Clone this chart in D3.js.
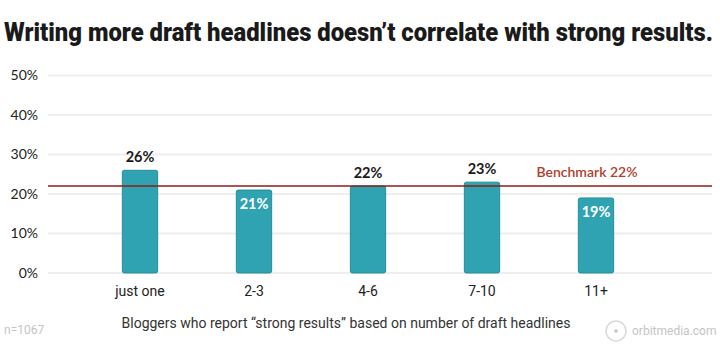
<!DOCTYPE html>
<html><head><meta charset="utf-8">
<script src="https://cdn.jsdelivr.net/npm/d3@7"></script>
<style>body{margin:0;background:#fff;}svg{display:block;}</style>
</head><body>
<svg id="chart" width="720" height="360"></svg>
<script>
const categories = ["just one", "2-3", "4-6", "7-10", "11+"];
const values = [26, 21, 22, 23, 19];
const labelInside = [false, true, false, false, true];
const yTicks = [0, 10, 20, 30, 40, 50];
const benchmark = 22;
const title = "Writing more draft headlines doesn\u2019t correlate with strong results.";
const subtitle = "Bloggers who report \u201cstrong results\u201d based on number of draft headlines";
const note = "n=1067";
const brand = "orbitmedia.com";

(function () {
const svg = d3.select("#chart");
const mLeft = 48, mRight = 712, mTop = 75.5, mBottom = 273;

const x = d3.scaleBand().domain(categories).range([83, 653]).paddingInner(0.69).paddingOuter(0.345);
const y = d3.scaleLinear().domain([0, 50]).range([mBottom, mTop]);

const tg = svg.append("g");
const tt = tg.append("text").attr("x", 0).attr("y", 0)
  .attr("font-family", "Roboto").attr("font-weight", 900).attr("font-size", 26).attr("fill", "#1a1a1a").text(title);
const natural = tt.node().getComputedTextLength();
tg.attr("transform", `translate(4,41) scale(${709 / natural},1)`);

svg.append("g").selectAll("line").data(yTicks).join("line")
  .attr("x1", mLeft).attr("x2", mRight).attr("y1", d => y(d)).attr("y2", d => y(d))
  .attr("stroke", "#eeeeee").attr("stroke-width", 2);

const yAxis = d3.axisLeft(y).tickValues(yTicks).tickFormat(d => d + "%").tickSize(0).tickPadding(0);
const ga = svg.append("g").attr("transform", "translate(38,0)").call(yAxis);
ga.select(".domain").remove();
ga.selectAll("text").attr("font-family", "Lato").attr("font-size", 14).attr("fill", "#222");

svg.append("g").selectAll("rect").data(values).join("rect")
  .attr("x", (d, i) => x(categories[i])).attr("width", x.bandwidth())
  .attr("y", d => y(d)).attr("height", d => y(0) - y(d))
  .attr("rx", 2).attr("fill", "#2fa3b1").attr("stroke", "#238f9b").attr("stroke-width", 1);

svg.append("line").attr("x1", mLeft).attr("x2", mRight).attr("y1", y(benchmark)).attr("y2", y(benchmark))
  .attr("stroke", "#8e1c14").attr("stroke-width", 1.5);
svg.append("text").attr("x", 587).attr("y", y(benchmark) - 9).attr("text-anchor", "middle")
  .attr("font-family", "Lato").attr("font-weight", 600).attr("font-size", 14).attr("fill", "#b0402c").text("Benchmark " + benchmark + "%");

svg.append("g").selectAll("text").data(values).join("text")
  .attr("x", (d, i) => x(categories[i]) + x.bandwidth() / 2)
  .attr("y", (d, i) => labelInside[i] ? y(d) + 19 : y(d) - 8)
  .attr("text-anchor", "middle").attr("font-family", "Lato").attr("font-weight", 700).attr("font-size", 14.5)
  .attr("fill", (d, i) => labelInside[i] ? "#fff" : "#1a1a1a").text(d => d + "%");

const xAxis = d3.axisBottom(x).tickSize(0).tickPadding(0);
const gx = svg.append("g").attr("transform", `translate(0,${mBottom + 13})`).call(xAxis);
gx.select(".domain").remove();
gx.selectAll("text").attr("font-family", "Roboto").attr("font-size", 14).attr("fill", "#222").attr("dy", "0.71em");

svg.append("text").attr("x", 346).attr("y", 328).attr("text-anchor", "middle")
  .attr("font-family", "Roboto").attr("font-size", 14).attr("fill", "#333").text(subtitle);
svg.append("text").attr("x", 4).attr("y", 334)
  .attr("font-family", "Roboto").attr("font-size", 12).attr("fill", "#c4c4c4").text(note);
svg.append("circle").attr("cx", 616).attr("cy", 331).attr("r", 10).attr("fill", "none").attr("stroke", "#d8d8d8").attr("stroke-width", 1.5);
svg.append("circle").attr("cx", 616).attr("cy", 331).attr("r", 1.8).attr("fill", "#c4c4c4");
svg.append("text").attr("x", 632).attr("y", 335)
  .attr("font-family", "Roboto").attr("font-size", 12).attr("fill", "#c4c4c4").text(brand);
})();
</script>
</body></html>
